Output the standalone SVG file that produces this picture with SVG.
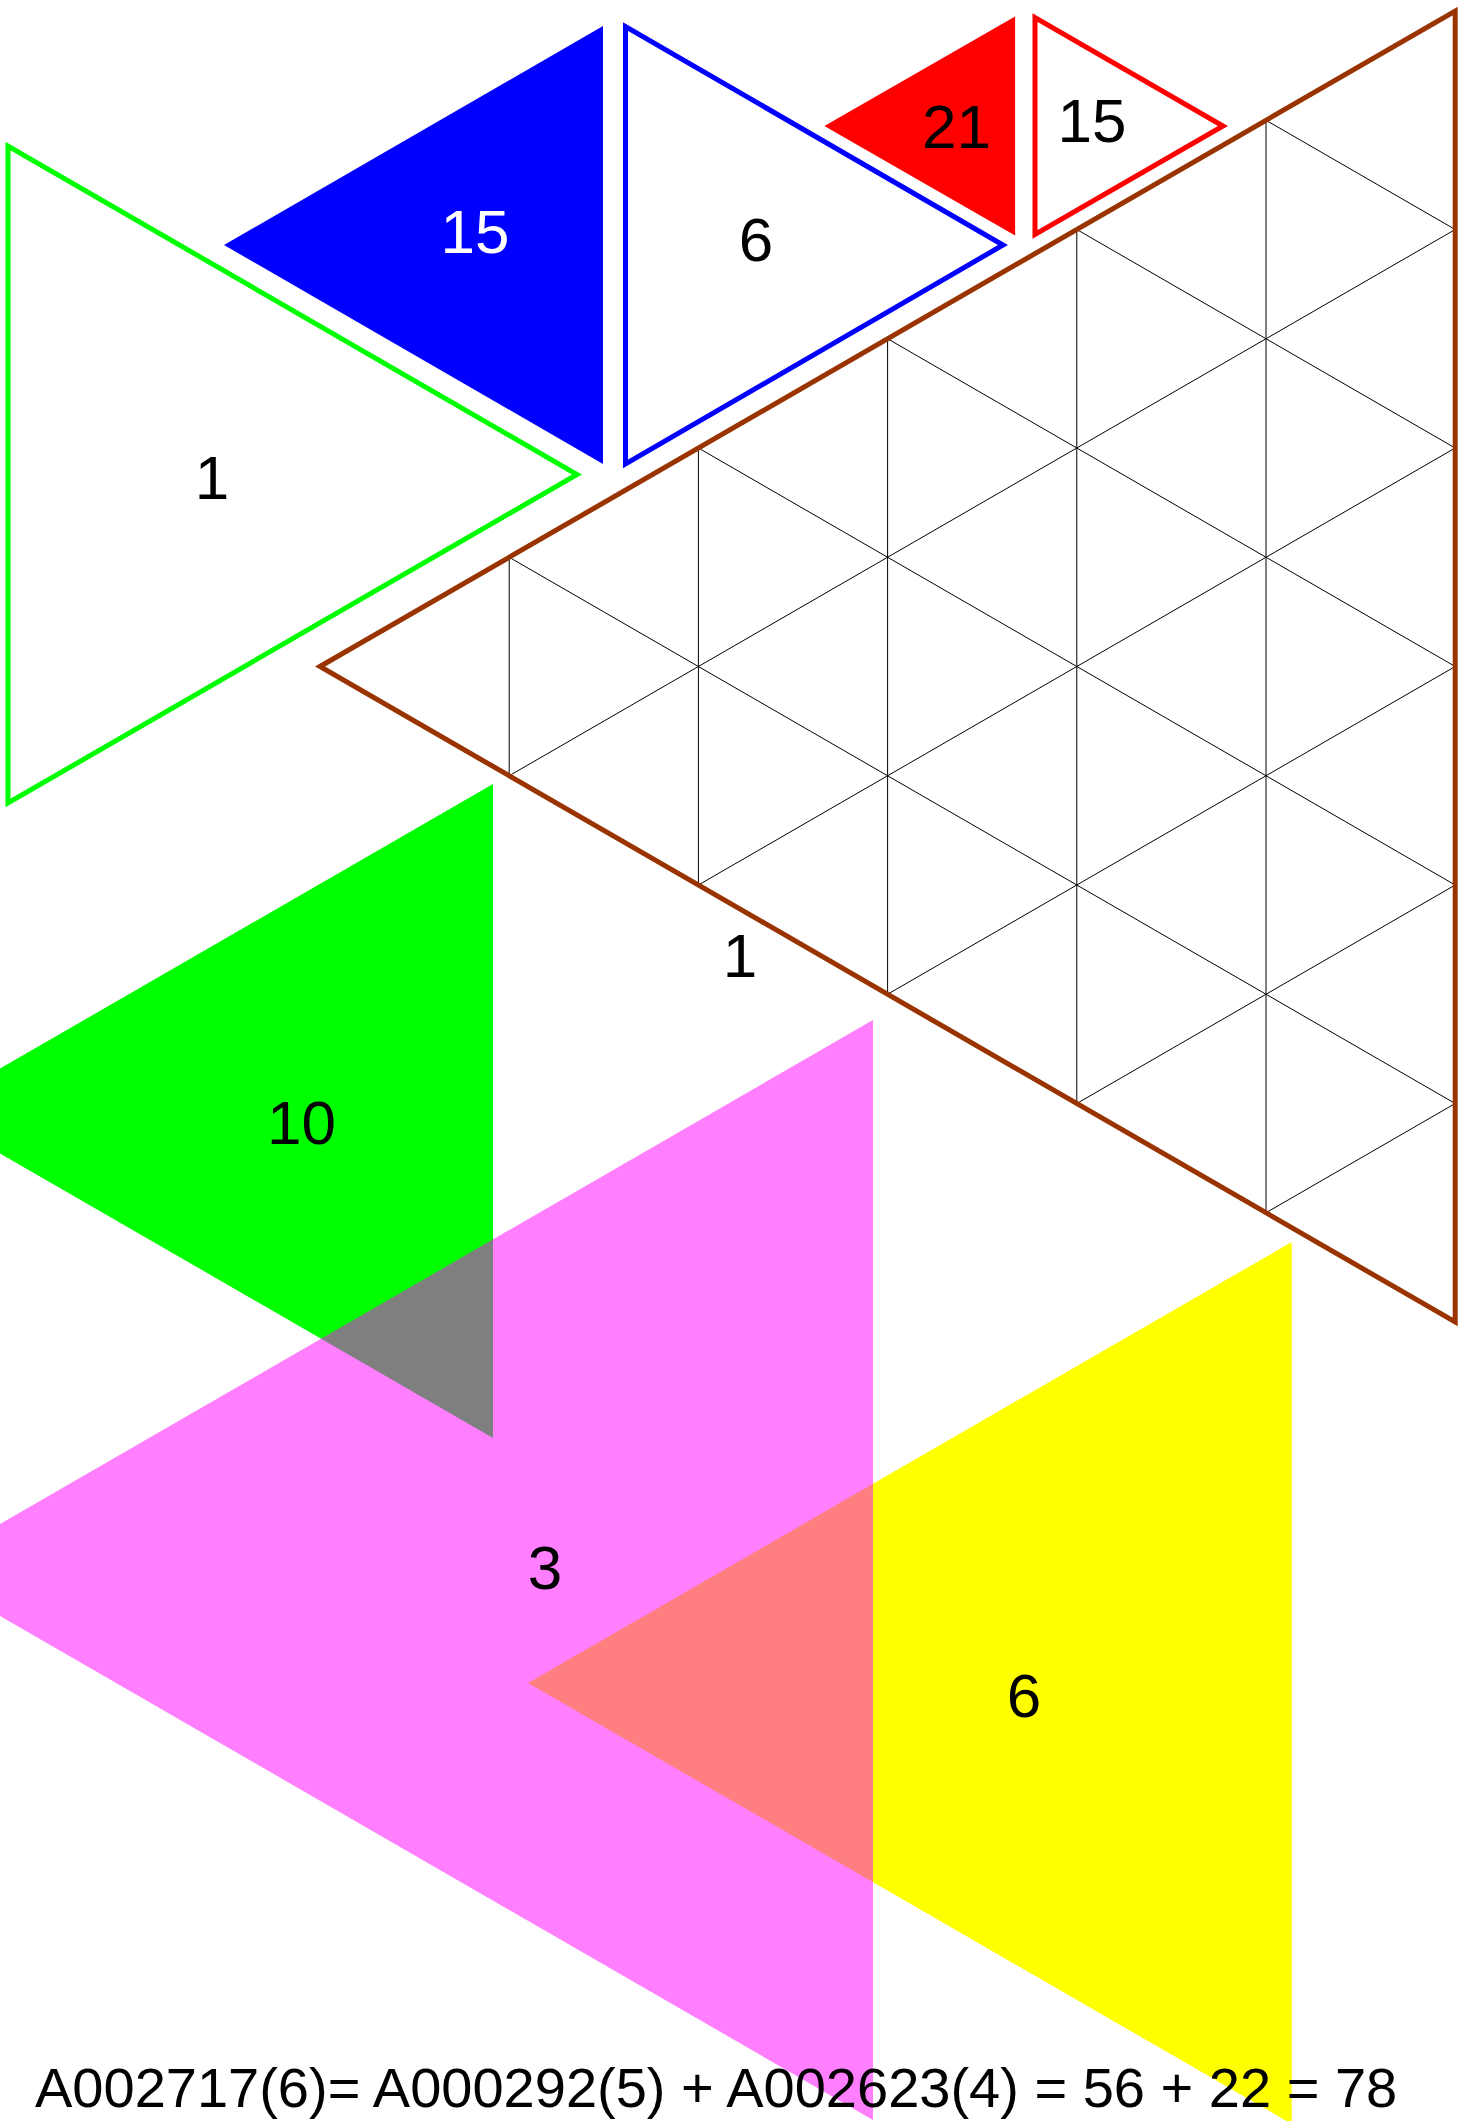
<svg xmlns="http://www.w3.org/2000/svg" width="1464" height="2121" viewBox="0 0 1464 2121">
<style>
  text { font-family: "Liberation Sans", Arial, Helvetica, sans-serif; }
  .lbl { font-size: 62px; text-anchor: middle; fill: #000; }
  .wlbl { font-size: 62px; text-anchor: middle; fill: #fff; }
  .grid line { stroke: #000; stroke-width: 1; }
  .outline { fill: none; stroke-width: 5; }
</style>
<rect x="0" y="0" width="1464" height="2121" fill="#fff"/>

<g id="grid-triangle">
  <g class="grid">
    <line x1="509.2" y1="557.25" x2="509.2" y2="775.75"/>
    <line x1="698.4" y1="448" x2="698.4" y2="885"/>
    <line x1="887.6" y1="338.75" x2="887.6" y2="994.25"/>
    <line x1="1076.8" y1="229.5" x2="1076.8" y2="1103.5"/>
    <line x1="1266" y1="120.25" x2="1266" y2="1212.75"/>
    <line x1="509.2" y1="775.75" x2="1455.2" y2="229.5"/>
    <line x1="698.4" y1="885" x2="1455.2" y2="448"/>
    <line x1="887.6" y1="994.25" x2="1455.2" y2="666.5"/>
    <line x1="1076.8" y1="1103.5" x2="1455.2" y2="885"/>
    <line x1="1266" y1="1212.75" x2="1455.2" y2="1103.5"/>
    <line x1="509.2" y1="557.25" x2="1455.2" y2="1103.5"/>
    <line x1="698.4" y1="448" x2="1455.2" y2="885"/>
    <line x1="887.6" y1="338.75" x2="1455.2" y2="666.5"/>
    <line x1="1076.8" y1="229.5" x2="1455.2" y2="448"/>
    <line x1="1266" y1="120.25" x2="1455.2" y2="229.5"/>
  </g>
  <polygon class="outline" stroke="#993300" points="320,666.5 1455.2,11 1455.2,1322"/>
  <text class="lbl" x="740" y="977">1</text>
</g>

<g id="green-outline">
  <polygon class="outline" stroke="#00ff00" points="8,146 8,803 577,474.5"/>
  <text class="lbl" x="212" y="499">1</text>
</g>

<g id="blue-filled">
  <polygon fill="#0000ff" points="224,245 603,26 603,464"/>
  <text class="wlbl" x="475" y="253">15</text>
</g>

<g id="blue-outline">
  <polygon class="outline" stroke="#0000ff" points="625.5,26.5 625.5,464 1003,245"/>
  <text class="lbl" x="756" y="261">6</text>
</g>

<g id="red-filled">
  <polygon fill="#ff0000" points="824.4,126 1015.1,16.5 1015.1,235.5"/>
  <text class="lbl" x="956.5" y="148">21</text>
</g>

<g id="red-outline">
  <polygon class="outline" stroke="#ff0000" points="1035,17.5 1035,234.5 1223,126"/>
  <text class="lbl" x="1092" y="142">15</text>
</g>

<g id="green-filled">
  <polygon fill="#00ff00" points="493,784 493,1438 -73.5,1111"/>
</g>

<g id="yellow-filled">
  <polygon fill="#ffff00" points="1291.7,1242 1291.7,2124 528,1683"/>
</g>

<g id="magenta-filled">
  <polygon fill="#ff00ff" fill-opacity="0.5" points="873,1020 873,2120 -79.6,1570"/>
</g>

<g id="labels">
  <text class="lbl" x="301.5" y="1144">10</text>
  <text class="lbl" x="545" y="1589">3</text>
  <text class="lbl" x="1024" y="1717">6</text>
</g>

<g id="formula">
  <text x="35" y="2106.5" font-size="56" fill="#000">A002717(6)= A000292(5) + A002623(4) = 56 + 22 = 78</text>
</g>
</svg>
